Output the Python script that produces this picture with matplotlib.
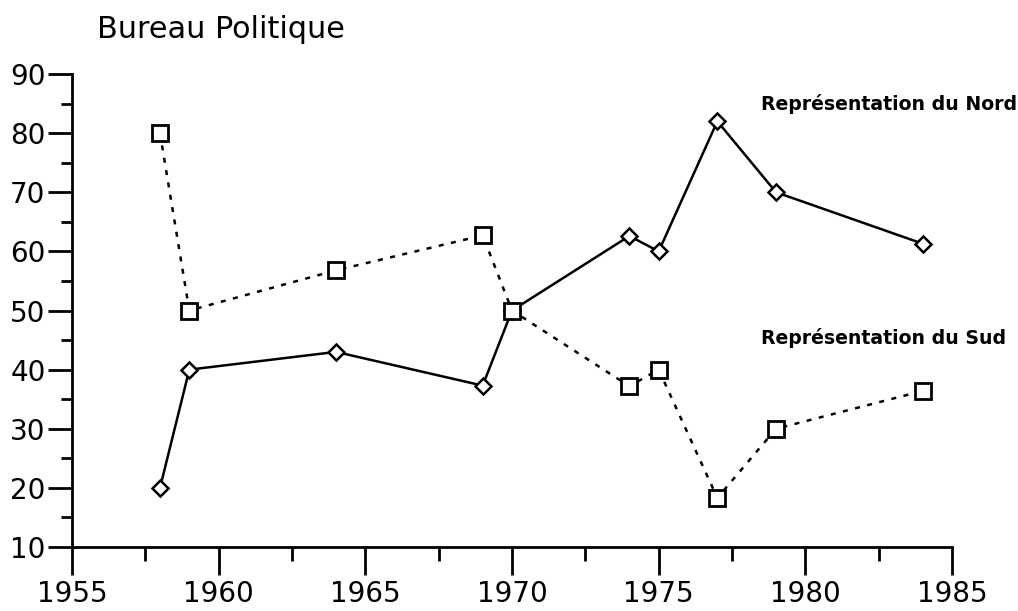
import numpy as np
import matplotlib.pyplot as plt
from matplotlib.ticker import MultipleLocator

# données
annees = [1958, 1959, 1964, 1969, 1970, 1974, 1975, 1977, 1979, 1984]
nord = [20, 40, 43, 37.3, 50, 62.6, 60, 82, 70, 61.3]
sud = [80, 50, 56.8, 62.7, 50, 37.2, 40, 18.3, 30, 36.4]

fig = plt.figure(figsize=(10.18, 6.11), dpi=100)
ax = fig.add_axes([0.0707, 0.1047, 0.8645, 0.7742])

# Nord : trait plein, losanges
ax.plot(annees, nord, color="black", linewidth=1.8, linestyle="-",
        marker="D", markersize=8, markerfacecolor="white",
        markeredgecolor="black", markeredgewidth=1.8, zorder=3)
# Sud : pointillés, carrés
ax.plot(annees, sud, color="black", linewidth=1.8, linestyle=(0, (2, 3)),
        marker="s", markersize=12, markerfacecolor="white",
        markeredgecolor="black", markeredgewidth=2, zorder=3)

ax.text(1978.5, 85, "Représentation du Nord", fontsize=13.6,
        fontweight="bold", va="center", ha="left")
ax.text(1978.5, 45.4, "Représentation du Sud", fontsize=13.6,
        fontweight="bold", va="center", ha="left")

fig.text(0.095, 0.951, "Bureau Politique", fontsize=21.8, va="center", ha="left")

#axes
ax.set_xlim(1955, 1985)
ax.set_ylim(10, 90)
ax.spines["top"].set_visible(False)
ax.spines["right"].set_visible(False)
ax.spines["left"].set_linewidth(2)
ax.spines["bottom"].set_linewidth(2)
ax.xaxis.set_major_locator(MultipleLocator(5))
ax.xaxis.set_minor_locator(MultipleLocator(2.5))
ax.yaxis.set_major_locator(MultipleLocator(10))
ax.yaxis.set_minor_locator(MultipleLocator(5))
ax.tick_params(axis="both", which="major", direction="out", width=2,
               labelsize=20)
ax.tick_params(axis="x", which="major", length=20, pad=4)
ax.tick_params(axis="y", which="major", length=17, pad=2)
ax.tick_params(axis="x", which="minor", direction="out", length=10, width=2)
ax.tick_params(axis="y", which="minor", direction="out", length=8, width=2)

plt.savefig("out.png", dpi=100)
